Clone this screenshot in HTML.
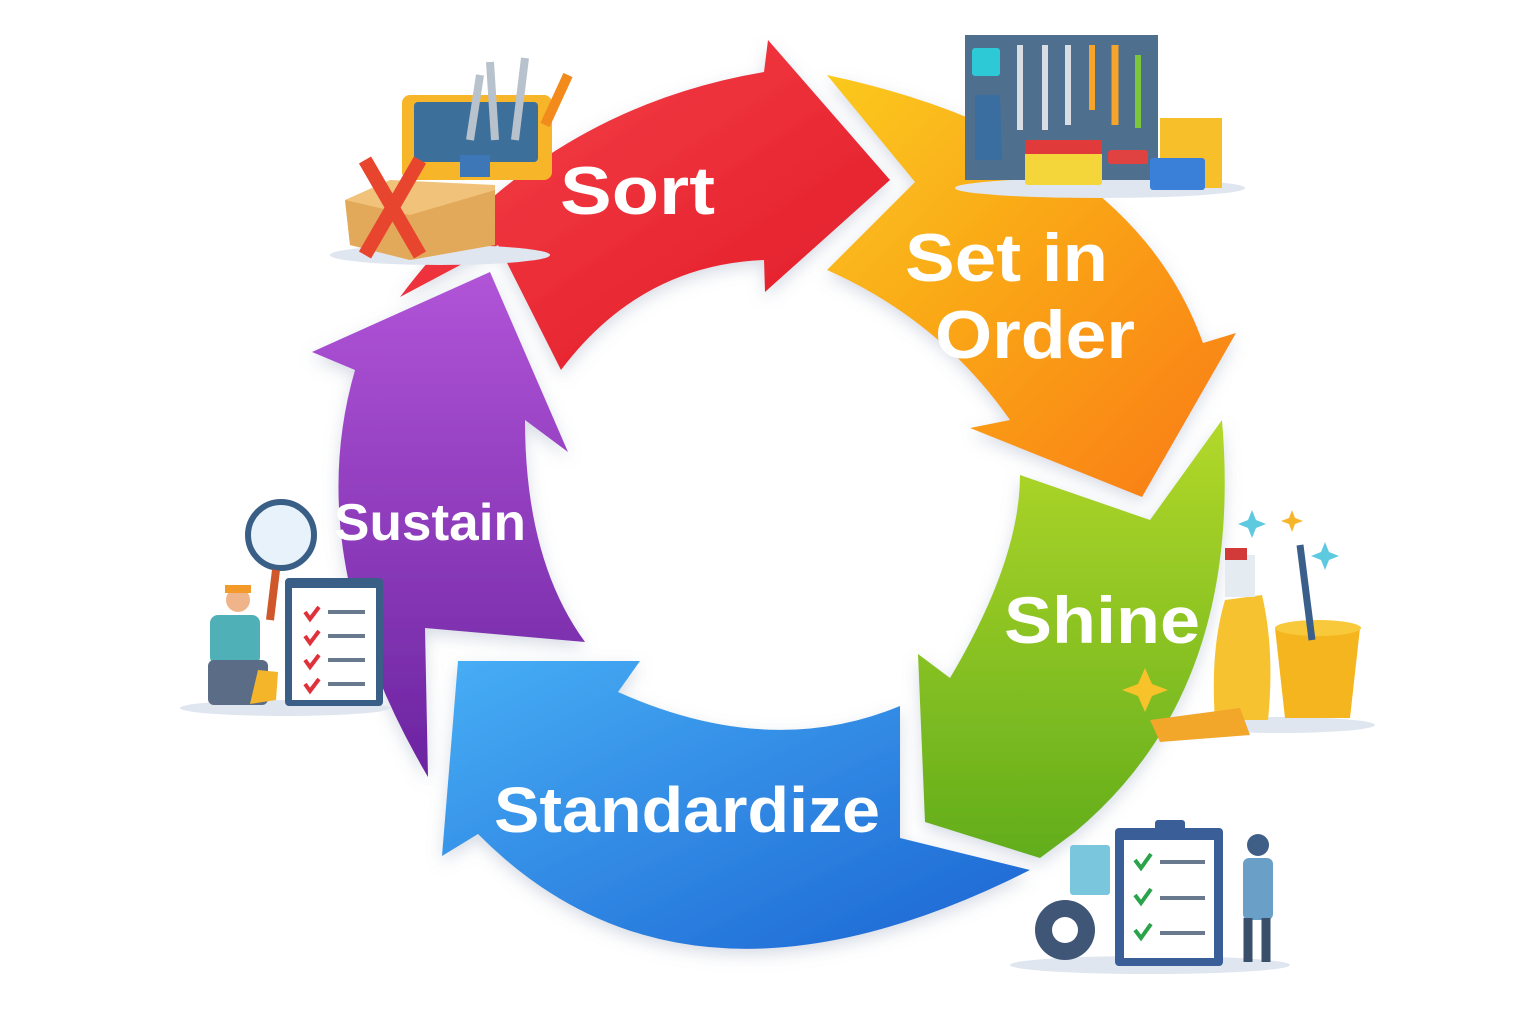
<!DOCTYPE html>
<html><head><meta charset="utf-8"><style>
html,body{margin:0;padding:0;background:#fff}
svg{display:block}
text{font-family:"Liberation Sans",sans-serif;font-weight:bold;fill:#fff}
</style></head><body>
<svg width="1536" height="1024" viewBox="0 0 1536 1024" xmlns="http://www.w3.org/2000/svg">
<defs>
<linearGradient id="gr" x1="0" y1="0" x2="1" y2="1"><stop offset="0" stop-color="#f7424a"/><stop offset="1" stop-color="#e01a26"/></linearGradient>
<linearGradient id="go" x1="0" y1="0" x2="1" y2="1"><stop offset="0" stop-color="#fbc91c"/><stop offset="1" stop-color="#f97a14"/></linearGradient>
<linearGradient id="gg" x1="0" y1="0" x2="0" y2="1"><stop offset="0" stop-color="#b3d82a"/><stop offset="1" stop-color="#62ad1c"/></linearGradient>
<linearGradient id="gb" x1="0" y1="0" x2="1" y2="1"><stop offset="0" stop-color="#47aef5"/><stop offset="1" stop-color="#1b64d2"/></linearGradient>
<linearGradient id="gp" x1="0" y1="0" x2="0" y2="1"><stop offset="0" stop-color="#b154d8"/><stop offset="1" stop-color="#6b24a0"/></linearGradient>
<filter id="sh" x="-10%" y="-10%" width="120%" height="120%"><feDropShadow dx="0" dy="6" stdDeviation="8" flood-color="#7a8aa8" flood-opacity="0.3"/></filter>
</defs>
<g filter="url(#sh)">
<path d="M428,777 Q300,560 355,370 L312,352 L490,272 L568,452 L525,420 Q525,560 585,642 L425,628 Z" fill="url(#gp)"/>
<path d="M1030,870 L900,838 L900,706 Q770,760 618,692 L640,661 L458,661 L442,856 L478,834 Q686,1044 1030,870 Z" fill="url(#gb)"/>
<path d="M1222,420 Q1245,690 1075,832 L1040,858 L925,822 L918,654 L950,678 Q1020,560 1020,475 L1150,520 Z" fill="url(#gg)"/>
<path d="M827,75 Q1130,140 1203,343 L1236,333 L1142,497 L970,428 L1010,420 Q940,320 827,270 L915,182 Z" fill="url(#go)"/>
<path d="M400,297 Q540,110 764,72 L768,40 L890,180 L765,292 L764,260 Q640,265 561,370 L498,245 Z" fill="url(#gr)"/>
</g>
<text x="560" y="214" font-size="68" textLength="155" lengthAdjust="spacingAndGlyphs">Sort</text>
<text x="905" y="281" font-size="68" textLength="203" lengthAdjust="spacingAndGlyphs">Set in</text>
<text x="935" y="358" font-size="68" textLength="200" lengthAdjust="spacingAndGlyphs">Order</text>
<text x="1004" y="643" font-size="66" textLength="196" lengthAdjust="spacingAndGlyphs">Shine</text>
<text x="494" y="832" font-size="64" textLength="386" lengthAdjust="spacingAndGlyphs">Standardize</text>
<text x="334" y="540" font-size="52" textLength="192" lengthAdjust="spacingAndGlyphs">Sustain</text>

<ellipse cx="440" cy="255" rx="110" ry="10" fill="#dfe6f0"/>
<path d="M345,200 L390,180 L495,185 L495,245 L410,260 L350,245 Z" fill="#f1c27a"/>
<path d="M345,200 L410,215 L495,190 L495,245 L410,260 L350,245 Z" fill="#e3a95a"/>
<rect x="402" y="95" width="150" height="85" rx="8" fill="#f7b52a"/>
<rect x="414" y="102" width="124" height="60" rx="4" fill="#3c6f9a"/>
<path d="M470,140 L480,75 M495,140 L490,62 M515,140 L525,58" stroke="#b8c2cc" stroke-width="8"/>
<path d="M545,125 L568,75" stroke="#f28a1c" stroke-width="10"/>
<rect x="460" y="155" width="30" height="22" fill="#3d77b8"/>
<path d="M365,160 L420,255 M420,160 L365,255" stroke="#e8452f" stroke-width="14"/>

<ellipse cx="1100" cy="188" rx="145" ry="10" fill="#dfe6f0"/>
<rect x="965" y="35" width="193" height="145" fill="#4f6f8f"/>
<rect x="972" y="48" width="28" height="28" rx="3" fill="#2ec9d6"/>
<path d="M975,95 L1000,95 L1002,160 L975,160 Z" fill="#3a6ea0"/>
<path d="M1020,45 L1020,130 M1045,45 L1045,130 M1068,45 L1068,125" stroke="#d9dee4" stroke-width="6"/>
<path d="M1092,45 L1092,110" stroke="#f6a42a" stroke-width="6"/>
<path d="M1115,45 L1115,125" stroke="#f6a42a" stroke-width="7"/>
<path d="M1138,55 L1138,128" stroke="#7cc63c" stroke-width="6"/>
<rect x="1025" y="140" width="77" height="45" rx="3" fill="#f5d63a"/>
<rect x="1025" y="140" width="77" height="14" fill="#e03a3a"/>
<rect x="1160" y="118" width="62" height="70" fill="#f7c02a"/>
<rect x="1150" y="158" width="55" height="32" rx="3" fill="#3a80d8"/>
<rect x="1108" y="150" width="40" height="14" rx="3" fill="#e04242"/>

<ellipse cx="1280" cy="725" rx="95" ry="8" fill="#dfe6f0"/>
<path d="M1275,628 L1360,628 L1350,718 L1285,718 Z" fill="#f5b51f"/>
<ellipse cx="1318" cy="628" rx="43" ry="8" fill="#f8c93a"/>
<path d="M1300,545 L1312,640" stroke="#3a5f8a" stroke-width="7"/>
<path d="M1225,600 Q1210,650 1215,720 L1268,720 Q1275,650 1262,595 Z" fill="#f6c230"/>
<rect x="1225" y="555" width="30" height="42" fill="#e4ecf2"/>
<rect x="1225" y="548" width="22" height="12" fill="#d23a3a"/>
<path d="M1150,720 L1240,708 L1250,735 L1160,742 Z" fill="#f2a62a"/>
<path d="M1145,668 L1152,684 L1168,690 L1152,696 L1145,712 L1138,696 L1122,690 L1138,684 Z" fill="#f7c22a"/>
<path d="M1252,510 l4,10 10,4 -10,4 -4,10 -4,-10 -10,-4 10,-4 z" fill="#5ecae0"/>
<path d="M1325,542 l4,10 10,4 -10,4 -4,10 -4,-10 -10,-4 10,-4 z" fill="#5ecae0"/>
<path d="M1292,510 l3,8 8,3 -8,3 -3,8 -3,-8 -8,-3 8,-3 z" fill="#f7b52a"/>

<ellipse cx="1150" cy="965" rx="140" ry="9" fill="#dfe6f0"/>
<rect x="1115" y="828" width="108" height="138" rx="4" fill="#3a5f98"/>
<rect x="1124" y="840" width="90" height="118" fill="#fff"/>
<rect x="1155" y="820" width="30" height="14" rx="3" fill="#3a5f98"/>
<path d="M1135,860 l6,8 10,-14 M1135,895 l6,8 10,-14 M1135,930 l6,8 10,-14" stroke="#2aa34a" stroke-width="4" fill="none"/>
<path d="M1160,862 H1205 M1160,898 H1205 M1160,933 H1205" stroke="#6a7a8e" stroke-width="4"/>
<circle cx="1065" cy="930" r="30" fill="#3f5676"/>
<circle cx="1065" cy="930" r="13" fill="#fff"/>
<rect x="1070" y="845" width="40" height="50" rx="3" fill="#7ac6dc"/>
<circle cx="1258" cy="845" r="11" fill="#3f5f86"/>
<rect x="1243" y="858" width="30" height="62" rx="6" fill="#6aa0c8"/>
<path d="M1248,918 V962 M1266,918 V962" stroke="#3a4f6a" stroke-width="9"/>

<ellipse cx="285" cy="708" rx="105" ry="8" fill="#dfe6f0"/>
<circle cx="281" cy="535" r="33" fill="#e8f2fa" stroke="#3a5f86" stroke-width="6"/>
<path d="M276,570 L270,620" stroke="#d0572a" stroke-width="8"/>
<rect x="285" y="578" width="98" height="128" rx="4" fill="#3a5f86"/>
<rect x="292" y="588" width="84" height="112" fill="#fff"/>
<path d="M305,612 l5,7 9,-12 M305,636 l5,7 9,-12 M305,660 l5,7 9,-12 M305,684 l5,7 9,-12" stroke="#e0303a" stroke-width="4" fill="none"/>
<path d="M328,612 H365 M328,636 H365 M328,660 H365 M328,684 H365" stroke="#6a7a8e" stroke-width="4"/>
<circle cx="238" cy="600" r="12" fill="#f0b48a"/>
<rect x="225" y="585" width="26" height="8" fill="#f39a2a"/>
<rect x="210" y="615" width="50" height="50" rx="8" fill="#4fb0b8"/>
<rect x="208" y="660" width="60" height="45" rx="6" fill="#5a6c86"/>
<path d="M258,670 L278,672 L276,700 L250,704 Z" fill="#f5b52a"/>
</svg>
</body></html>
